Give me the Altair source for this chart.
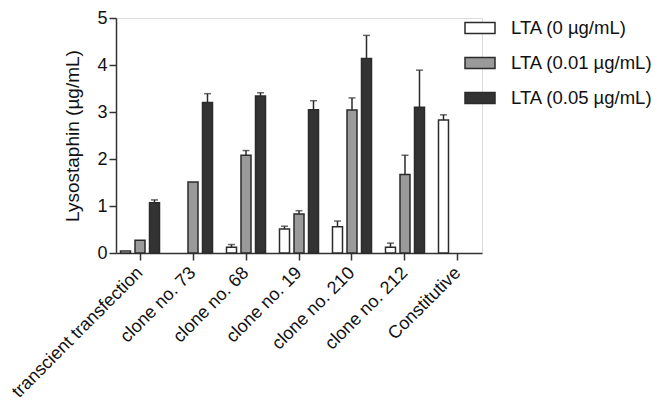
import altair as alt
import pandas as pd

categories = ["transcient transfection", "clone no. 73", "clone no. 68", "clone no. 19",
              "clone no. 210", "clone no. 212", "Constitutive"]
series = ["LTA (0 µg/mL)", "LTA (0.01 µg/mL)", "LTA (0.05 µg/mL)"]

lta0 = [0.04, None, 0.12, 0.51, 0.56, 0.12, 2.83]
lta001 = [0.27, 1.51, 2.08, 0.83, 3.04, 1.67, None]
lta005 = [1.07, 3.20, 3.34, 3.05, 4.14, 3.10, None]

lta0_err = [0.0, None, 0.06, 0.06, 0.12, 0.09, 0.11]
lta001_err = [0.0, 0.0, 0.10, 0.07, 0.26, 0.41, None]
lta005_err = [0.06, 0.19, 0.07, 0.19, 0.49, 0.79, None]

colors = ["#ffffff", "#9a9a9a", "#333333"]

rows = []
for s, vals, errs in zip(series, [lta0, lta001, lta005], [lta0_err, lta001_err, lta005_err]):
    for c, v, e in zip(categories, vals, errs):
        if v is None:
            continue
        rows.append({"cat": c, "series": s, "value": v,
                     "err": e if e else 0.0, "top": v + (e if e else 0.0)})
df = pd.DataFrame(rows)

FONT = "Liberation Sans"

x_enc = alt.X("cat:N", sort=categories,
              scale=alt.Scale(paddingInner=0.264, paddingOuter=0.085),
              axis=alt.Axis(title=None, labelAngle=-45, labelAlign="right", labelBaseline="middle",
                            labelFontSize=18, labelPadding=10, labelLimit=400, tickSize=7,
                            tickWidth=1.5, domainWidth=1.5, domainColor="#333333",
                            tickColor="#333333", labelColor="#111111", labelFont=FONT))
xoff = alt.XOffset("series:N", sort=series,
                   scale=alt.Scale(paddingInner=0.31, paddingOuter=0))
y_scale = alt.Scale(domain=[0, 5], nice=False)

bars = alt.Chart(df).mark_bar(stroke="#2b2b2b", strokeWidth=1.5).encode(
    x=x_enc,
    xOffset=xoff,
    y=alt.Y("value:Q", scale=y_scale,
            axis=alt.Axis(title="Lysostaphin (µg/mL)", values=[0, 1, 2, 3, 4, 5], grid=False,
                          labelFontSize=18, labelFont=FONT, titleFont=FONT, titleFontSize=19,
                          titleFontWeight="normal", titlePadding=14, tickSize=7, tickWidth=1.5,
                          domainWidth=1.5, domainColor="#333333", tickColor="#333333",
                          labelColor="#111111", titleColor="#111111", labelPadding=2)),
    fill=alt.Fill("series:N", sort=series,
                  scale=alt.Scale(domain=series, range=colors),
                  legend=alt.Legend(title=None, orient="none", legendX=348, legendY=-6,
                                    symbolType="M-1,-0.37H1V0.37H-1Z", symbolSize=900,
                                    symbolStrokeColor="#2b2b2b", symbolStrokeWidth=1.5,
                                    symbolOpacity=1, labelFont=FONT, labelFontSize=18.5,
                                    labelColor="#111111", labelOffset=15, rowPadding=9,
                                    labelLimit=300)),
)

err_df = df[df["err"] > 0]
rules = alt.Chart(err_df).mark_rule(color="#2b2b2b", strokeWidth=1.5).encode(
    x=alt.X("cat:N", sort=categories), xOffset=alt.XOffset("series:N", sort=series),
    y=alt.Y("value:Q", scale=y_scale), y2="top:Q")
caps = alt.Chart(err_df).mark_tick(color="#2b2b2b", thickness=1.5, size=7).encode(
    x=alt.X("cat:N", sort=categories), xOffset=alt.XOffset("series:N", sort=series),
    y=alt.Y("top:Q", scale=y_scale))

chart = alt.layer(bars, rules, caps).properties(
    width=366, height=235,
    autosize=alt.AutoSizeParams(type="none"),
    padding={"left": 108, "top": 10, "right": 174, "bottom": 148},
).configure_view(stroke=None).configure(font=FONT)

chart.save("out.html", embed_options={"renderer": "svg", "actions": False})
